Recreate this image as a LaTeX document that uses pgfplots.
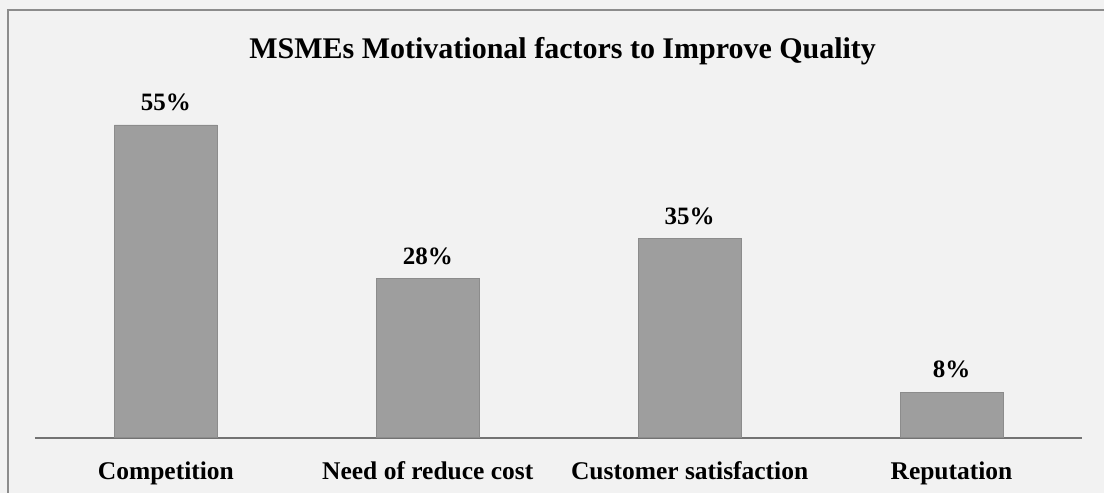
\documentclass[border=0pt]{standalone}
\usepackage{pgfplots}
\pgfplotsset{compat=1.18}
\usepackage{fontspec}
\setmainfont{Liberation Serif}
\begin{document}
\begin{tikzpicture}
\fill[black!5] (0,0) rectangle (552.5pt,246.5pt);
\draw[black!45, line width=0.6pt] (4pt,0) -- (4pt,241.5pt) -- (552.5pt,241.5pt);
\node[font=\bfseries\fontsize{15}{17}\selectfont] at (281.5pt,221pt) {MSMEs Motivational factors to Improve Quality};
\begin{axis}[
  at={(17.5pt,27.5pt)}, anchor=south west,
  scale only axis, width=524pt, height=170.7pt,
  xmin=-0.5, xmax=3.5, ymin=0, ymax=60,
  axis x line*=bottom, axis y line=none,
  x axis line style={black!55, line width=0.8pt, -},
  xtick=data, xtick style={draw=none},
  xticklabels={Competition, Need of reduce cost, Customer satisfaction, Reputation},
  xticklabel style={font=\bfseries\fontsize{12.75}{15}\selectfont, yshift=-4pt},
  ybar, bar width=51.5pt,
  /pgf/number format/assume math mode=true,
  nodes near coords={\pgfmathprintnumber{\pgfplotspointmeta}\%},
  nodes near coords style={font=\bfseries\fontsize{12.5}{14}\selectfont, black, yshift=3.5pt},
  clip=false,
]
\addplot[fill=black!38, draw=black!45, line width=0.3pt] coordinates {(0,55) (1,28) (2,35) (3,8)};
\end{axis}
\end{tikzpicture}
\end{document}
